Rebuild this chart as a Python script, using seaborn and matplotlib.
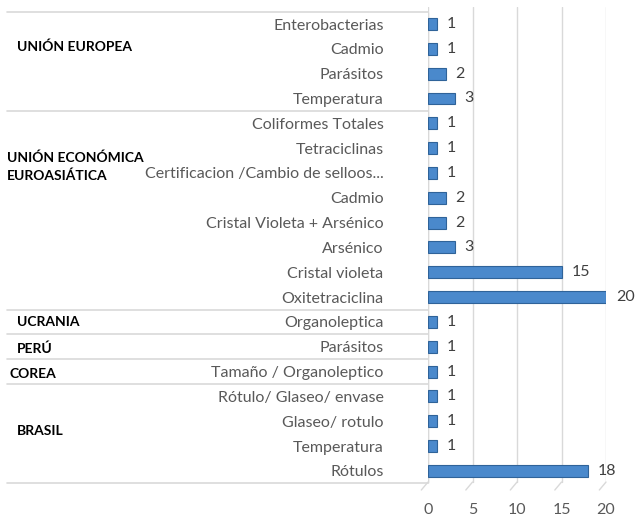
import pandas as pd
import numpy as np
import matplotlib
matplotlib.use('Agg')
import matplotlib.pyplot as plt
import matplotlib.transforms as mtransforms
import seaborn as sns

groups = (['UNIÓN EUROPEA'] * 4
          + ['UNIÓN ECONÓMICA\nEUROASIÁTICA'] * 8
          + ['UCRANIA', 'PERÚ', 'COREA']
          + ['BRASIL'] * 4)
labels = ['Enterobacterias', 'Cadmio', 'Parásitos', 'Temperatura',
          'Coliformes Totales', 'Tetraciclinas', 'Certificacion /Cambio de selloos...',
          'Cadmio', 'Cristal Violeta + Arsénico', 'Arsénico', 'Cristal violeta',
          'Oxitetraciclina',
          'Organoleptica',
          'Parásitos',
          'Tamaño / Organoleptico',
          'Rótulo/ Glaseo/ envase', 'Glaseo/ rotulo', 'Temperatura', 'Rótulos']
values = [1, 1, 2, 3, 1, 1, 1, 2, 2, 3, 15, 20, 1, 1, 1, 1, 1, 1, 18]
x_ticks = [0, 5, 10, 15, 20]


def plot_graph() -> None:
    sns.set_theme(style='white')
    plt.rcParams['font.family'] = ['Lato', 'DejaVu Sans']

    df = pd.DataFrame({'Group': groups, 'Label': labels, 'Count': values})
    df['Key'] = [f'{i}|{l}' for i, l in enumerate(df['Label'])]

    fig = plt.figure(figsize=(6.42, 5.20), dpi=100)
    W, H = 642, 520
    x0, x1 = 428, 606
    ax = fig.add_axes([x0 / W, 1 - 490 / H, (x1 - x0) / W, (490 - 7) / H])

    sns.barplot(data=df, x='Count', y='Key', orient='h', color='#4A89CC',
                edgecolor='#2F6399', linewidth=0.8, width=0.48, saturation=1, ax=ax)

    n = len(df)
    ax.set_xlim(0, 20)
    ax.set_ylim(18.77, -0.685)
    ax.set_xlabel('')
    ax.set_ylabel('')
    ax.set_xticks(x_ticks)
    ax.set_yticks(range(n))
    ax.set_yticklabels(df['Label'])
    ax.tick_params(axis='y', length=0, pad=32, labelsize=11.5, labelcolor='#595959')
    ax.tick_params(axis='x', length=0, pad=9, labelsize=11.5, labelcolor='#595959')
    for s in ax.spines.values():
        s.set_visible(False)

    # gridlines with a little 3D floor slant
    for t in x_ticks:
        ax.plot([t, t], [-0.685, 18.45], color='#D9D9D9', lw=1, zorder=0)
        ax.plot([t, t - 0.75], [18.45, 18.77], color='#D9D9D9', lw=1, zorder=0,
                clip_on=False)
    ax.vlines(0, -0.5, 18.5, color='#D9D9D9', lw=1, zorder=0.5)

    ax.bar_label(ax.containers[0], padding=7, fontsize=11.5, color='#404040')

    # group separators
    trans = mtransforms.blended_transform_factory(ax.transAxes, ax.transData)
    left = (7 - x0) / (x1 - x0)
    bounds = [-0.5] + [i + 0.5 for i in range(n - 1) if groups[i] != groups[i + 1]] + [n - 0.5]
    for b in bounds:
        ax.plot([left, 0], [b, b], color='#D9D9D9', lw=1.2, transform=trans, clip_on=False)

    # group titles
    title_pos = {'UNIÓN EUROPEA': (17, 0.9), 'UNIÓN ECONÓMICA\nEUROASIÁTICA': (7, 5.75),
                 'UCRANIA': (17, 12.0), 'PERÚ': (17, 13.1), 'COREA': (10, 14.1),
                 'BRASIL': (17, 16.4)}
    for g in dict.fromkeys(groups):
        px, yy = title_pos[g]
        ax.text((px - x0) / (x1 - x0), yy, g, transform=trans, ha='left', va='center',
                fontsize=10, fontweight='bold', color='#000000', linespacing=1.5)

    fig.savefig('out.png', dpi=100)


plot_graph()
